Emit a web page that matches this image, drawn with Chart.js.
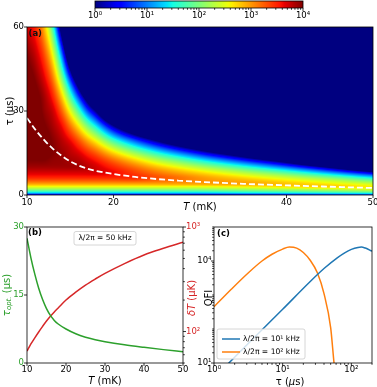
<!DOCTYPE html>
<html>
<head>
<meta charset="utf-8">
<script src="https://cdn.jsdelivr.net/npm/chart.js@4.4.1/dist/chart.umd.min.js"></script>
<style>
  html, body { margin: 0; padding: 0; background: #fff; overflow: hidden; }
  #fig { position: relative; width: 377px; height: 387px; }
  canvas { position: absolute; }
</style>
</head>
<body>
<div id="fig">
  <canvas id="cbar-chart" width="240" height="22" style="left:80px;top:0"></canvas>
  <canvas id="map-chart" width="377" height="195" style="left:0;top:20px"></canvas>
  <canvas id="opt-chart" width="210" height="172" style="left:0;top:215px"></canvas>
  <canvas id="qfi-chart" width="187" height="172" style="left:190px;top:215px"></canvas>
</div>
<script>
// ---- data ----
// panel (a): log10(QFI) on a grid, rows = tau (us), columns = T (mK)
const mapT = [10, 11, 12, 13, 14, 15, 16, 17, 18, 20, 22.5, 25, 27.5, 30, 35, 40, 45, 50];
const mapTau = [0, 0.5, 1, 2, 3, 4, 6, 8, 10, 12.5, 15, 17.5, 20, 25, 30, 35, 40, 50, 60];
const mapLogQFI = [
  [0.3, 0.3, 0.3, 0.3, 0.3, 0.3, 0.3, 0.3, 0.3, 0.3, 0.3, 0.3, 0.3, 0.3, 0.38, 0.45, 0.55, 0.65],
  [1.0, 1.0, 1.0, 1.0, 1.0, 1.0, 1.0, 1.0, 1.0, 1.0, 1.0, 1.0, 1.0, 1.0, 1.08, 1.15, 1.25, 1.35],
  [1.5, 1.5, 1.5, 1.5, 1.5, 1.5, 1.5, 1.5, 1.5, 1.5, 1.5, 1.5, 1.5, 1.5, 1.58, 1.65, 1.75, 1.85],
  [2.1, 2.1, 2.1, 2.1, 2.1, 2.1, 2.1, 2.1, 2.1, 2.1, 2.1, 2.1, 2.1, 2.1, 2.18, 2.25, 2.35, 2.45],
  [2.55, 2.55, 2.55, 2.55, 2.55, 2.55, 2.55, 2.55, 2.55, 2.55, 2.55, 2.55, 2.55, 2.55, 2.63, 2.7, 2.75, 2.61],
  [2.95, 2.95, 2.95, 2.95, 2.95, 2.95, 2.95, 2.95, 2.95, 2.95, 2.95, 2.95, 2.95, 2.95, 2.95, 2.82, 2.64, 2.38],
  [3.45, 3.45, 3.45, 3.45, 3.45, 3.45, 3.45, 3.45, 3.45, 3.45, 3.45, 3.3, 3.17, 3.02, 2.75, 2.45, 2.06, 1.53],
  [3.7, 3.7, 3.7, 3.7, 3.7, 3.7, 3.7, 3.7, 3.7, 3.61, 3.38, 3.14, 2.93, 2.72, 2.28, 1.79, 1.11, 0.23],
  [3.88, 3.88, 3.88, 3.88, 3.88, 3.88, 3.86, 3.79, 3.71, 3.48, 3.16, 2.83, 2.54, 2.24, 1.62, 0.88, -0.14, -1.45],
  [4.0, 4.0, 4.0, 3.94, 3.92, 3.86, 3.81, 3.68, 3.54, 3.18, 2.73, 2.28, 1.88, 1.45, 0.55, -0.55, -2.08, -3],
  [4.1, 4.1, 4.1, 3.99, 3.91, 3.8, 3.68, 3.47, 3.26, 2.74, 2.15, 1.57, 1.02, 0.45, -0.77, -2.3, -3, -3],
  [4.18, 4.18, 4.12, 3.99, 3.86, 3.73, 3.48, 3.18, 2.89, 2.19, 1.43, 0.71, 0.0, -0.73, -2.31, -3, -3, -3],
  [4.24, 4.2, 4.12, 3.96, 3.8, 3.57, 3.23, 2.83, 2.44, 1.53, 0.6, -0.29, -1.17, -2.09, -3, -3, -3, -3],
  [4.3, 4.2, 4.02, 3.85, 3.59, 3.11, 2.56, 1.92, 1.32, -0.07, -1.41, -2.68, -3, -3, -3, -3, -3, -3],
  [4.29, 4.16, 3.93, 3.73, 3.24, 2.52, 1.71, 0.78, -0.06, -2.04, -3, -3, -3, -3, -3, -3, -3, -3],
  [4.25, 4.09, 3.87, 3.5, 2.81, 1.8, 0.69, -0.53, -1.69, -3, -3, -3, -3, -3, -3, -3, -3, -3],
  [4.18, 4.0, 3.72, 3.22, 2.28, 0.96, -0.49, -2.11, -3, -3, -3, -3, -3, -3, -3, -3, -3, -3],
  [3.99, 3.76, 3.33, 2.53, 1.04, -1.07, -3, -3, -3, -3, -3, -3, -3, -3, -3, -3, -3, -3],
  [3.72, 3.45, 2.84, 1.67, -0.49, -3, -3, -3, -3, -3, -3, -3, -3, -3, -3, -3, -3, -3]
];
const mapTTicks = [10, 20, 40, 50];
const mapTauTicks = [0, 30, 60];
const cbarTicks = [1, 10, 100, 1000, 10000];

// panel (b): optimal tau and temperature error vs T
const optT = [10, 11, 12, 13, 14, 15, 16, 17, 18, 20, 22.5, 25, 27.5, 30, 35, 40, 45, 50];
const optTau = [27.5, 23.2, 19.6, 16.5, 14.0, 12.0, 10.5, 9.4, 8.6, 7.5, 6.45, 5.7, 5.15, 4.7, 4.0, 3.45, 2.95, 2.5];
const optDeltaT = [65, 76, 87, 99, 112, 126, 140, 154, 168, 200, 238, 278, 318, 360, 447, 540, 625, 714];
const optTTicks = [10, 20, 30, 40, 50];
const optTauTicks = [0, 15, 30];
const optDeltaTicks = [100, 1000];

// panel (c): QFI vs tau for two couplings
const qfiTauBlue = [1, 3, 10, 25, 40, 63, 80, 100, 125, 140, 160, 200];
const qfiBlue = [3.6, 34, 380, 2450, 6000, 12600, 17400, 21900, 25100, 25700, 24000, 19500];
const qfiTauOrange = [1, 1.8, 3.2, 5, 7, 10, 12.5, 16, 20, 25, 32, 40, 50, 56, 60];
const qfiOrange = [450, 1500, 4600, 10000, 15800, 22400, 25700, 24000, 17800, 10700, 4500, 1100, 110, 10, 3];
const qfiLabels = ['λ/2π = 10¹ kHz', 'λ/2π = 10² kHz'];
const qfiTauTicks = [1, 10, 100];
const qfiTicks = [10, 10000];

// ---- helpers ----
const FONT = '"DejaVu Sans", sans-serif';
const GREEN = '#2ca02c', RED = '#d62728', BLUE = '#1f77b4', ORANGE = '#ff7f0e';

Chart.defaults.font.family = FONT;
Chart.defaults.font.size = 8.5;
Chart.defaults.color = '#000';
Chart.defaults.animation = false;
Chart.defaults.responsive = false;
Chart.defaults.devicePixelRatio = 1;
Chart.defaults.events = [];
Chart.defaults.plugins.legend.display = false;
Chart.defaults.plugins.tooltip.enabled = false;

const sup = { '0': '⁰', '1': '¹', '2': '²', '3': '³', '4': '⁴', '5': '⁵' };
const powLabel = v => '10' + String(Math.round(Math.log10(v))).split('').map(c => sup[c]).join('');
const setTicks = list => scale => { scale.ticks = list.map(v => ({ value: v })); };
const fixWidth = w => scale => { scale.width = w; scale.paddingTop = 0; scale.paddingBottom = 0; };
const fixHeight = h => scale => { scale.height = h; scale.paddingLeft = 0; scale.paddingRight = 0; };
const noGrid = { display: false, drawTicks: false };
const points = (xs, ys) => xs.map((x, i) => ({ x: x, y: ys[i] }));

const axis = (extra) => Object.assign({
  grid: noGrid,
  border: { display: false },
  ticks: { padding: 3, autoSkip: false, maxRotation: 0 }
}, extra);

// matplotlib jet
const jetStops = {
  r: [[0, 0], [0.35, 0], [0.66, 1], [0.89, 1], [1, 0.5]],
  g: [[0, 0], [0.125, 0], [0.375, 1], [0.64, 1], [0.91, 0], [1, 0]],
  b: [[0, 0.5], [0.11, 1], [0.34, 1], [0.65, 0], [1, 0]]
};
const lerpStops = (stops, f) => {
  for (let k = 1; k < stops.length; k++) {
    if (f <= stops[k][0]) {
      const [x0, y0] = stops[k - 1], [x1, y1] = stops[k];
      return y0 + (y1 - y0) * (f - x0) / (x1 - x0);
    }
  }
  return stops[stops.length - 1][1];
};
const jet = f => {
  f = Math.min(1, Math.max(0, f));
  return [lerpStops(jetStops.r, f), lerpStops(jetStops.g, f), lerpStops(jetStops.b, f)].map(c => Math.round(c * 255));
};
const LOG_MIN = 0, LOG_MAX = 4; // colour range 10^0 .. 10^4

// smooth (Catmull-Rom) lookup on an uneven grid, used only for shading between grid nodes
const hermite = (xs, ys, v) => {
  const n = xs.length;
  let k = 0;
  while (k < n - 2 && v > xs[k + 1]) k++;
  const h = xs[k + 1] - xs[k];
  const t = Math.min(1, Math.max(0, (v - xs[k]) / h));
  const slope = i => i <= 0 ? (ys[1] - ys[0]) / (xs[1] - xs[0])
    : i >= n - 1 ? (ys[n - 1] - ys[n - 2]) / (xs[n - 1] - xs[n - 2])
    : (ys[i + 1] - ys[i - 1]) / (xs[i + 1] - xs[i - 1]);
  const m0 = slope(k) * h, m1 = slope(k + 1) * h;
  const t2 = t * t, t3 = t2 * t;
  return (2 * t3 - 3 * t2 + 1) * ys[k] + (t3 - 2 * t2 + t) * m0 + (-2 * t3 + 3 * t2) * ys[k + 1] + (t3 - t2) * m1;
};

// ---- plugins ----
const heatmapPlugin = {
  id: 'heatmap',
  beforeDatasetsDraw(chart) {
    const { ctx, chartArea: a, scales: { x, y } } = chart;
    const w = Math.round(a.right - a.left), h = Math.round(a.bottom - a.top);
    const img = ctx.createImageData(w, h);
    const taus = [];
    for (let j = 0; j < h; j++) taus.push(y.getValueForPixel(a.top + j + 0.5));
    for (let i = 0; i < w; i++) {
      const T = x.getValueForPixel(a.left + i + 0.5);
      const column = mapLogQFI.map(row => hermite(mapT, row, T));
      for (let j = 0; j < h; j++) {
        const v = hermite(mapTau, column, taus[j]);
        const rgb = jet((v - LOG_MIN) / (LOG_MAX - LOG_MIN));
        const k = (j * w + i) * 4;
        img.data[k] = rgb[0]; img.data[k + 1] = rgb[1]; img.data[k + 2] = rgb[2]; img.data[k + 3] = 255;
      }
    }
    ctx.putImageData(img, Math.round(a.left), Math.round(a.top));
  }
};

const colorbarPlugin = {
  id: 'colorbar',
  beforeDatasetsDraw(chart) {
    const { ctx, chartArea: a, scales: { x } } = chart;
    for (let px = Math.round(a.left); px < a.right; px++) {
      const rgb = jet((Math.log10(x.getValueForPixel(px + 0.5)) - LOG_MIN) / (LOG_MAX - LOG_MIN));
      ctx.fillStyle = `rgb(${rgb[0]},${rgb[1]},${rgb[2]})`;
      ctx.fillRect(px, a.top, 1, a.bottom - a.top);
    }
  }
};

const minorValues = scale => {
  const out = [];
  const major = scale.ticks.map(t => t.value);
  for (let e = Math.floor(Math.log10(scale.min)); e <= Math.ceil(Math.log10(scale.max)); e++) {
    for (let m = 1; m < 10; m++) {
      const v = m * Math.pow(10, e);
      if (v >= scale.min * 0.999 && v <= scale.max * 1.001 && !major.some(t => Math.abs(t - v) < v * 1e-6)) out.push(v);
    }
  }
  return out;
};

// spines and outward tick marks, matplotlib style
const framePlugin = {
  id: 'frame',
  afterDatasetsDraw(chart) {
    const { ctx, chartArea: a } = chart;
    ctx.save();
    ctx.strokeStyle = '#000';
    ctx.lineWidth = 0.8;
    ctx.strokeRect(a.left, a.top, a.right - a.left, a.bottom - a.top);
    Object.values(chart.scales).forEach(s => {
      if (!s.options.display) return;
      const marks = s.ticks.map(t => [t.value, 3]);
      if (s.type === 'logarithmic') minorValues(s).forEach(v => marks.push([v, 1.8]));
      ctx.beginPath();
      marks.forEach(([v, len]) => {
        const p = s.getPixelForValue(v);
        if (s.position === 'left') { ctx.moveTo(a.left, p); ctx.lineTo(a.left - len, p); }
        else if (s.position === 'right') { ctx.moveTo(a.right, p); ctx.lineTo(a.right + len, p); }
        else { ctx.moveTo(p, a.bottom); ctx.lineTo(p, a.bottom + len); }
      });
      ctx.stroke();
    });
    ctx.restore();
  }
};

const fontOf = p => `${p.italic ? 'italic ' : ''}${p.bold ? 'bold ' : ''}${p.size || 10}px ${FONT}`;
const drawParts = (ctx, item, a) => {
  const parts = item.parts;
  ctx.save();
  ctx.translate(item.x(a), item.y(a));
  ctx.rotate(item.rot || 0);
  ctx.fillStyle = item.color || '#000';
  ctx.textBaseline = 'middle';
  ctx.textAlign = 'left';
  let total = 0;
  parts.forEach(p => { ctx.font = fontOf(p); p.w = ctx.measureText(p.text).width; total += p.w; });
  let cx = item.align === 'left' ? 0 : -total / 2;
  parts.forEach(p => { ctx.font = fontOf(p); ctx.fillText(p.text, cx, p.dy || 0); cx += p.w; });
  ctx.restore();
};
const textPlugin = items => ({
  id: 'texts',
  afterDraw(chart) {
    items.forEach(item => drawParts(chart.ctx, item, chart.chartArea));
  }
});

const roundBox = (ctx, x, y, w, h) => {
  ctx.save();
  ctx.fillStyle = 'rgba(255,255,255,0.8)';
  ctx.strokeStyle = '#cccccc';
  ctx.lineWidth = 0.8;
  ctx.beginPath();
  ctx.roundRect(x, y, w, h, 2);
  ctx.fill();
  ctx.stroke();
  ctx.restore();
};

const noteBoxPlugin = {
  id: 'noteBox',
  afterDraw(chart) {
    const a = chart.chartArea, cx = (a.left + a.right) / 2;
    roundBox(chart.ctx, cx - 31, a.top + 4.5, 62, 13.5);
    drawParts(chart.ctx, { parts: [{ text: 'λ/2π = 50 kHz', size: 7.5 }], x: () => cx, y: () => a.top + 11.3 }, a);
  }
};

const legendPlugin = {
  id: 'qfiLegend',
  afterDraw(chart) {
    const { ctx, chartArea: a } = chart;
    roundBox(ctx, a.left + 3, a.bottom - 34, 88, 30);
    [BLUE, ORANGE].forEach((col, i) => {
      const yy = a.bottom - 24 + i * 13;
      ctx.save();
      ctx.strokeStyle = col;
      ctx.lineWidth = 1.5;
      ctx.beginPath();
      ctx.moveTo(a.left + 8, yy);
      ctx.lineTo(a.left + 26, yy);
      ctx.stroke();
      ctx.restore();
      drawParts(ctx, { parts: [{ text: qfiLabels[i], size: 7.6 }], align: 'left', x: () => a.left + 29, y: () => yy }, a);
    });
  }
};

// ---- charts ----
const createColorbar = function() {
  new Chart(document.getElementById('cbar-chart'), {
    type: 'scatter',
    data: { datasets: [] },
    options: {
      layout: { padding: { left: 15, right: 17, top: 1, bottom: 0 }, autoPadding: false },
      scales: {
        x: axis({ type: 'logarithmic', position: 'bottom', min: 1, max: 10000,
          afterBuildTicks: setTicks(cbarTicks), afterFit: fixHeight(14),
          ticks: { padding: 2.5, autoSkip: false, maxRotation: 0, callback: v => powLabel(v) } }),
        y: { display: false, min: 0, max: 1 }
      }
    },
    plugins: [colorbarPlugin, framePlugin]
  });
};

const createMapChart = function() {
  new Chart(document.getElementById('map-chart'), {
    type: 'line',
    data: {
      datasets: [{
        data: points(optT, optTau),
        borderColor: '#ffffff',
        borderWidth: 1.8,
        borderDash: [6, 3],
        pointRadius: 0,
        cubicInterpolationMode: 'monotone'
      }]
    },
    options: {
      layout: { padding: { left: 0, right: 4, top: 7, bottom: 0 }, autoPadding: false },
      scales: {
        x: axis({ type: 'linear', position: 'bottom', min: 10, max: 50,
          afterBuildTicks: setTicks(mapTTicks), afterFit: fixHeight(20) }),
        y: axis({ type: 'linear', position: 'left', min: 0, max: 60,
          afterBuildTicks: setTicks(mapTauTicks), afterFit: fixWidth(27) })
      }
    },
    plugins: [heatmapPlugin, framePlugin, textPlugin([
      { parts: [{ text: '(a)', size: 8.5, bold: true }], align: 'left', color: '#111', x: a => a.left + 1.5, y: a => a.top + 6.5 },
      { parts: [{ text: 'τ', size: 10 }, { text: ' (μs)', size: 10 }], rot: -Math.PI / 2, x: a => a.left - 17, y: a => (a.top + a.bottom) / 2 },
      { parts: [{ text: 'T', size: 10, italic: true }, { text: ' (mK)', size: 10 }], x: a => (a.left + a.right) / 2, y: a => a.bottom + 12.5 }
    ])]
  });
};

const createOptChart = function() {
  new Chart(document.getElementById('opt-chart'), {
    type: 'line',
    data: {
      datasets: [
        { data: points(optT, optTau), yAxisID: 'y', borderColor: GREEN, borderWidth: 1.5, pointRadius: 0, cubicInterpolationMode: 'monotone' },
        { data: points(optT, optDeltaT), yAxisID: 'y2', borderColor: RED, borderWidth: 1.5, pointRadius: 0, cubicInterpolationMode: 'monotone' }
      ]
    },
    options: {
      layout: { padding: { left: 0, right: 0, top: 12, bottom: 0 }, autoPadding: false },
      scales: {
        x: axis({ type: 'linear', position: 'bottom', min: 10, max: 50,
          afterBuildTicks: setTicks(optTTicks), afterFit: fixHeight(24),
          ticks: { padding: 1.5, autoSkip: false, maxRotation: 0 } }),
        y: axis({ type: 'linear', position: 'left', min: 0, max: 30,
          afterBuildTicks: setTicks(optTauTicks), afterFit: fixWidth(27),
          ticks: { padding: 3, autoSkip: false, color: GREEN } }),
        y2: axis({ type: 'logarithmic', position: 'right', min: 50, max: 1000,
          afterBuildTicks: setTicks(optDeltaTicks), afterFit: fixWidth(27),
          ticks: { padding: 3, autoSkip: false, color: RED, callback: v => powLabel(v) } })
      }
    },
    plugins: [framePlugin, noteBoxPlugin, textPlugin([
      { parts: [{ text: '(b)', size: 8.5, bold: true }], align: 'left', x: a => a.left + 1, y: a => a.top + 6 },
      { parts: [{ text: 'T', size: 10, italic: true }, { text: ' (mK)', size: 10 }], x: a => (a.left + a.right) / 2, y: a => a.bottom + 18 },
      { parts: [{ text: 'τ', size: 10, italic: true }, { text: 'opt.', size: 7, italic: true, dy: 2.5 }, { text: ' (μs)', size: 10 }],
        color: GREEN, rot: -Math.PI / 2, x: a => a.left - 20, y: a => (a.top + a.bottom) / 2 },
      { parts: [{ text: 'δT', size: 10, italic: true }, { text: ' (μK)', size: 10 }],
        color: RED, rot: -Math.PI / 2, x: a => a.right + 9, y: a => (a.top + a.bottom) / 2 + 3 }
    ])]
  });
};

const createQfiChart = function() {
  new Chart(document.getElementById('qfi-chart'), {
    type: 'line',
    data: {
      datasets: [
        { data: points(qfiTauBlue, qfiBlue), borderColor: BLUE, borderWidth: 1.5, pointRadius: 0, cubicInterpolationMode: 'monotone' },
        { data: points(qfiTauOrange, qfiOrange), borderColor: ORANGE, borderWidth: 1.5, pointRadius: 0, cubicInterpolationMode: 'monotone' }
      ]
    },
    options: {
      layout: { padding: { left: 0, right: 5, top: 12, bottom: 0 }, autoPadding: false },
      scales: {
        x: axis({ type: 'logarithmic', position: 'bottom', min: 1, max: 200,
          afterBuildTicks: setTicks(qfiTauTicks), afterFit: fixHeight(24),
          ticks: { padding: 2, autoSkip: false, maxRotation: 0, callback: v => powLabel(v) } }),
        y: axis({ type: 'logarithmic', position: 'left', min: 10, max: 100000,
          afterBuildTicks: setTicks(qfiTicks), afterFit: fixWidth(24),
          ticks: { padding: 2.5, autoSkip: false, callback: v => powLabel(v) } })
      }
    },
    plugins: [framePlugin, legendPlugin, textPlugin([
      { parts: [{ text: '(c)', size: 8.5, bold: true }], align: 'left', x: a => a.left + 3, y: a => a.top + 7 },
      { parts: [{ text: 'QFI', size: 10 }], rot: -Math.PI / 2, x: a => a.left - 4.5, y: a => (a.top + a.bottom) / 2 + 3 },
      { parts: [{ text: 'τ', size: 10 }, { text: ' (', size: 10 }, { text: 'μ', size: 10, italic: true }, { text: 's)', size: 10 }],
        x: a => (a.left + a.right) / 2 - 3, y: a => a.bottom + 19 }
    ])]
  });
};

createColorbar();
createMapChart();
createOptChart();
createQfiChart();
</script>
</body>
</html>
